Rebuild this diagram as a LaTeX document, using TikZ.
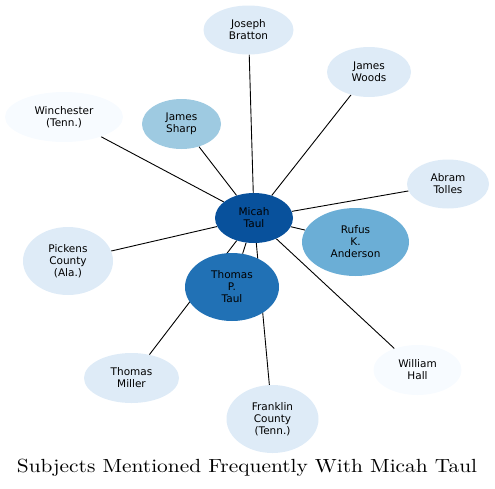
\documentclass[tikz,border=0pt]{standalone}
\usepackage{fontspec}
\usepackage{tikz}
\usetikzlibrary{shapes.geometric,backgrounds}
\newfontfamily\nodefont{DejaVu Sans}
\newfontfamily\titlefont{lmroman10-regular.otf}
\definecolor{bluea}{HTML}{F7FBFF}
\definecolor{blueb}{HTML}{DEEBF7}
\definecolor{bluec}{HTML}{9ECAE1}
\definecolor{blued}{HTML}{6BAED6}
\definecolor{bluee}{HTML}{2171B5}
\definecolor{bluef}{HTML}{08519C}

\begin{document}
\begin{tikzpicture}[x=1pt,y=-1pt]
\tikzstyle{subj}=[ellipse,inner sep=0pt,align=center,font=\nodefont\fontsize{10.5}{12}\selectfont]
\tikzstyle{link}=[line width=0.9pt,black]
\useasboundingbox (0,0) rectangle (495,488);
\begin{scope}
\node[subj,fill=bluef,minimum width=78,minimum height=50] (M) at (254,218) {Micah\\Taul};
\node[subj,fill=blueb,minimum width=90,minimum height=49] (JB) at (248.5,30) {Joseph\\Bratton};
\node[subj,fill=blueb,minimum width=84,minimum height=50] (JW) at (369,72) {James\\Woods};
\node[subj,fill=bluea,minimum width=118,minimum height=50] (W) at (64,117) {Winchester\\(Tenn.)};
\node[subj,fill=bluec,minimum width=79,minimum height=50] (JS) at (181.5,124) {James\\Sharp};
\node[subj,fill=blueb,minimum width=82,minimum height=49] (AT) at (448,184) {Abram\\Tolles};
\node[subj,fill=blued,minimum width=107,minimum height=68] (RA) at (355.5,242) {Rufus\\K.\\Anderson};
\node[subj,fill=blueb,minimum width=90,minimum height=68] (PC) at (68,261) {Pickens\\County\\(Ala.)};
\node[subj,fill=bluee,minimum width=94,minimum height=68] (TT) at (232,287) {Thomas\\P.\\Taul};
\node[subj,fill=blueb,minimum width=95,minimum height=50] (TM) at (131.5,378) {Thomas\\Miller};
\node[subj,fill=bluea,minimum width=88,minimum height=50] (WH) at (417.5,370) {William\\Hall};
\node[subj,fill=blueb,minimum width=92,minimum height=68] (FC) at (272.5,419) {Franklin\\County\\(Tenn.)};

\begin{scope}[on background layer]
\foreach \n in {JB,JW,W,JS,AT,RA,PC,TT,TM,WH,FC}
  \draw[link] (M) -- (\n);
\end{scope}

\node[anchor=base,inner sep=0pt,font=\titlefont\fontsize{19}{22}\selectfont] (title) at (247,472) {\scalebox{1.125}[1]{Subjects Mentioned Frequently With Micah Taul}};
\end{scope}
\end{tikzpicture}
\end{document}
